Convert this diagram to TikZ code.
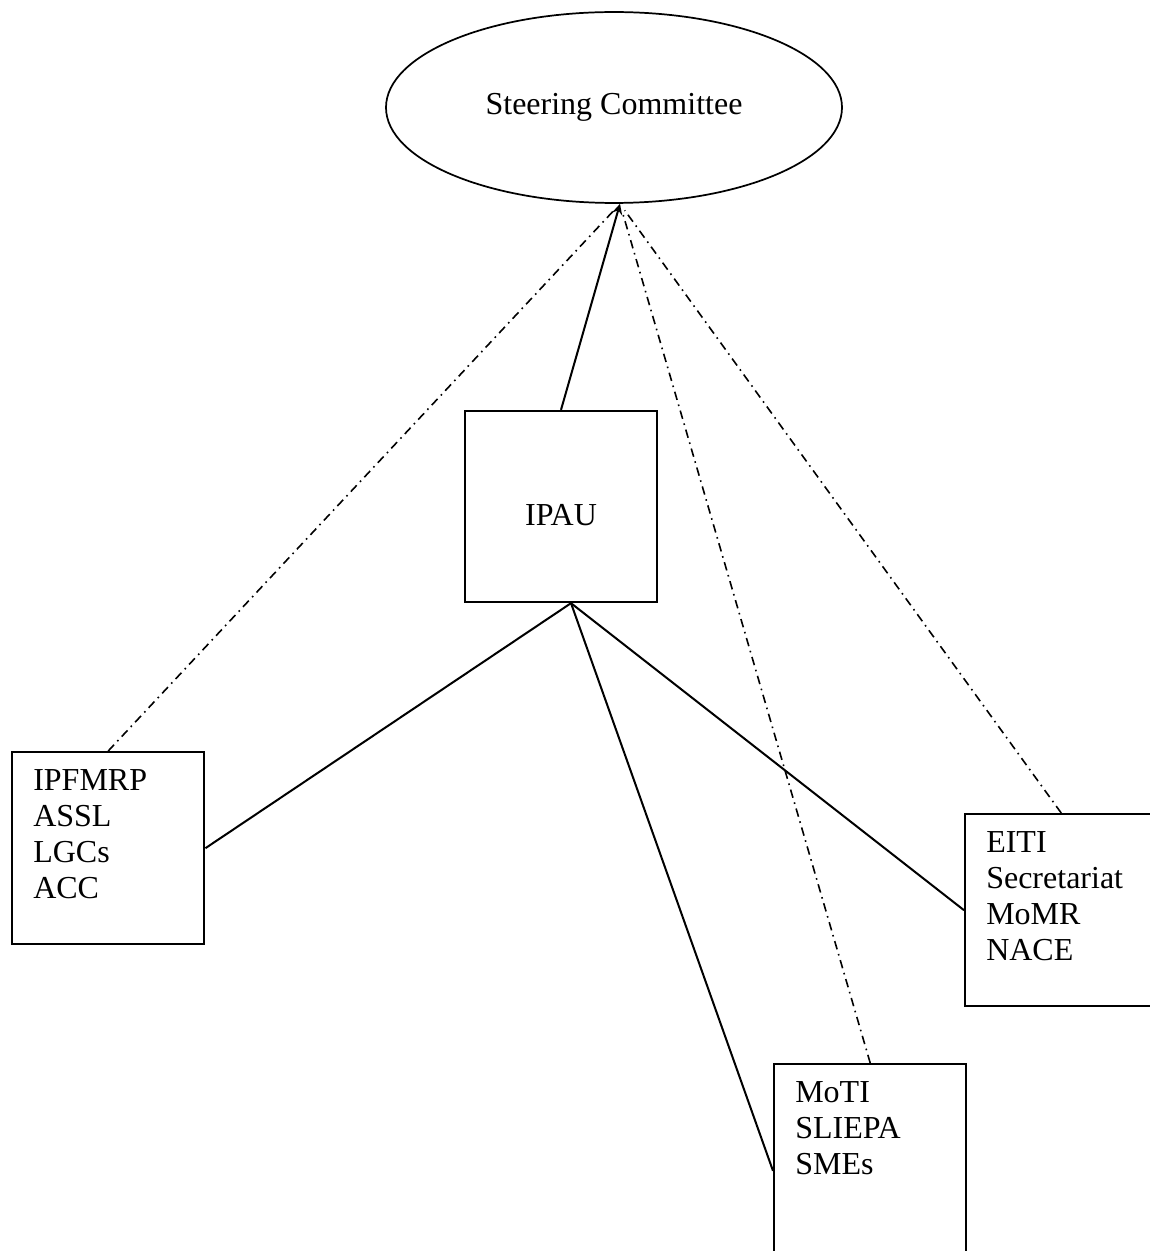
\documentclass[tikz,border=0pt]{standalone}
\usepackage{fontspec}
\setmainfont{Liberation Serif}
\usetikzlibrary{shapes.geometric, arrows}
\tikzstyle{committee} = [ellipse, draw=black, line width=0.65pt, minimum width=171pt, minimum height=71.6pt, text centered]
\tikzstyle{unit} = [rectangle, draw=black, line width=0.9pt, minimum width=72pt, minimum height=71.6pt, text centered, text height=14.6pt, text depth=0pt]
\tikzstyle{member} = [rectangle, draw=black, line width=0.9pt, inner xsep=7.9pt, inner ysep=6.5pt, anchor=north west]
\tikzstyle{link} = [line width=0.75pt]
\tikzstyle{arrow} = [line width=0.75pt,->,>=stealth]
\tikzstyle{report} = [line width=0.6pt, dash pattern=on 3.2pt off 1.8pt on 0.6pt off 1.8pt, shorten >=3pt]
\newcommand{\memberlist}[1]{\parbox[t][59pt][t]{56.2pt}{#1}}
\begin{document}
\begin{tikzpicture}[x=0.375pt, y=-0.375pt, every node/.style={font=\fontsize{12}{13.5}\selectfont}]
\useasboundingbox (0,0) rectangle (1149,1251);

% Committee and unit
\node (steer) [committee] at (614,107.5) {Steering Committee};
\node (ipau) [unit] at (561,506.5) {IPAU};

% Member groups
\node (prog) [member] at (11,751) {\memberlist{IPFMRP\\ASSL\\LGCs\\ACC}};
\node (eiti) [member] at (964,813) {\memberlist{EITI\\Secretariat\\MoMR\\NACE}};
\node (moti) [member] at (773,1063) {\memberlist{MoTI\\SLIEPA\\SMEs}};

\coordinate (apex) at ([xshift=2.25pt]steer.south);
\coordinate (hub) at ([xshift=3.75pt]ipau.south);

% Lines
\draw [arrow] (ipau.north) -- (apex);
\draw [link] (hub) -- (prog.east);
\draw [link] (hub) -- ([yshift=-4pt]moti.west);
\draw [link] (hub) -- (eiti.west);

\draw [report] (prog.north) -- (apex);
\draw [report] (moti.north) -- (apex);
\draw [report] (eiti.north) -- (apex);

\end{tikzpicture}
\end{document}
